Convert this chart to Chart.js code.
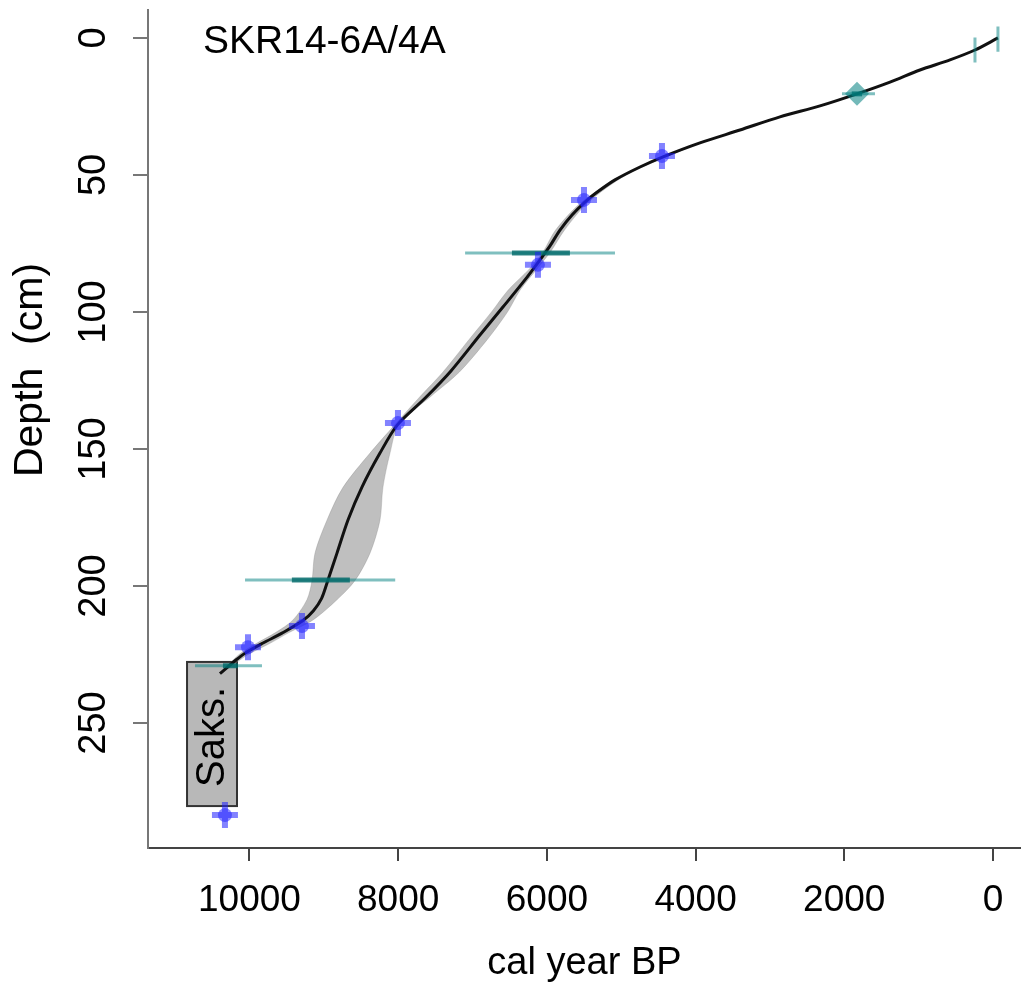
<!DOCTYPE html>
<html>
<head>
<meta charset="utf-8">
<script src="https://cdn.jsdelivr.net/npm/chart.js@4.4.0/dist/chart.umd.min.js"></script>
<style>
  html, body { margin: 0; padding: 0; background: #fff; }
</style>
</head>
<body>
<canvas id="ageModel" width="1021" height="986"></canvas>
<script>
// ---- DATA ----
const xTickValues = [0, 2000, 4000, 6000, 8000, 10000];
const yTickValues = [0, 50, 100, 150, 200, 250];

// age-depth model (weighted mean)
const curveYear  = [-67, 242, 578, 982, 1385, 1829, 2327, 2865, 3403, 3941, 4438, 4748, 5084, 5340, 5488, 5662, 5824, 5958, 6093, 6295, 6591, 6900, 7290, 7640, 8010, 8245, 8487, 8675, 8823, 8944, 9030, 9140, 9281, 9563, 9818, 10060, 10182, 10397];
const curveDepth = [0, 4.4, 8, 11.7, 16.1, 20.4, 24.8, 28.8, 33.6, 38.3, 43.4, 47.1, 51.8, 56.6, 59.9, 64.6, 70.1, 75.9, 81, 88.3, 98.2, 108.4, 121.5, 131.5, 141.2, 151.5, 163.9, 175.9, 188, 197.8, 204.5, 209, 212.6, 217.2, 220.8, 224.5, 227, 232];

// grey uncertainty envelope
const bandDepth = [40, 50, 60, 70, 78, 84, 92, 100, 110, 122, 131, 141, 151.5, 164, 176, 188, 198, 205, 212.4, 217, 221, 225, 229];
const bandOld   = [4120, 4970, 5535, 5880, 6050, 6225, 6520, 6745, 7045, 7400, 7710, 8040, 8379, 8742, 8958, 9119, 9159, 9227, 9415, 9650, 9910, 10140, 10280];
const bandYoung = [4100, 4930, 5445, 5760, 5950, 6125, 6360, 6530, 6800, 7180, 7570, 7990, 8110, 8205, 8245, 8379, 8581, 8823, 9146, 9470, 9730, 10020, 10240];

// 14C dates (blue)
const c14Year  = [4452, 5501, 6120, 8003, 9294, 10020, 10330];
const c14Depth = [43.1, 59.1, 82.8, 140.5, 214.6, 222.3, 283.6];

// other dates (teal): horizontal ranges
const tealDepth      = [20.4, 78.5, 197.8, 229.1];
const tealThinOld    = [2031, 7100, 10060, 10733];
const tealThinYoung  = [1587, 5084, 8040, 9832];
const tealCoreOld    = [1900, 6470, 9430, 10357];
const tealCoreYoung  = [1760, 5690, 8650, 10155];
const tealPeakYear   = [1829];
const tealPeakDepth  = [20.4];

// surface dates (teal, narrow)
const surfYear  = [-67, 242];
const surfDepth = [0.4, 4.4];

// Saksunarvatn tephra box
const saksOld = 10840, saksYoung = 10168, saksTop = 227.7, saksBottom = 280.3;
const saksLabel = 'Saks.';
const coreLabel = 'SKR14-6A/4A';
const depthLabel = 'Depth  (cm)';

const narrow = '"Liberation Sans Narrow", "Liberation Sans", Arial, sans-serif';
const regular = '"Liberation Sans", Arial, sans-serif';
const teal = 'rgba(0,128,128,0.5)';
const tealDark = 'rgba(0,105,105,0.8)';

// ---- DATASETS ----
const bandPoly = bandDepth.map((d, i) => ({ x: bandOld[i], y: d }))
  .concat(bandDepth.map((d, i) => ({ x: bandYoung[i], y: d })).reverse());

const datasets = [
  {
    data: bandPoly, showLine: true, fill: 'shape', tension: 0.3,
    backgroundColor: 'rgba(128,128,128,0.5)', borderColor: 'rgba(128,128,128,0.3)',
    borderWidth: 1, pointRadius: 0, order: 6,
  },
  {
    data: curveYear.map((v, i) => ({ x: v, y: curveDepth[i] })),
    showLine: true, tension: 0.3, borderColor: '#111', borderWidth: 3,
    pointRadius: 0, order: 5,
  },
];

tealDepth.forEach((d, i) => {
  datasets.push({
    data: [{ x: tealThinOld[i], y: d }, { x: tealThinYoung[i], y: d }],
    showLine: true, borderColor: teal, borderWidth: 3, pointRadius: 0, order: 4,
  });
  datasets.push({
    data: [{ x: tealCoreOld[i], y: d }, { x: tealCoreYoung[i], y: d }],
    showLine: true, borderColor: tealDark, borderWidth: 5, pointRadius: 0, order: 3,
  });
});

surfYear.forEach((v, i) => {
  datasets.push({
    data: [{ x: v, y: surfDepth[i] - 4.6 }, { x: v, y: surfDepth[i] + 4.6 }],
    showLine: true, borderColor: teal, borderWidth: 3, pointRadius: 0, order: 3,
  });
});

datasets.push({
  data: tealPeakYear.map((v, i) => ({ x: v, y: tealPeakDepth[i] })),
  pointStyle: 'rectRot', pointRadius: 12, backgroundColor: 'rgba(0,128,128,0.55)',
  borderWidth: 0, order: 2,
});

datasets.push({
  data: c14Year.map((v, i) => ({ x: v, y: c14Depth[i] })),
  pointStyle: 'cross', pointRadius: 13, borderColor: 'rgba(30,30,255,0.55)',
  borderWidth: 6, order: 1,
});
datasets.push({
  data: c14Year.map((v, i) => ({ x: v, y: c14Depth[i] })),
  pointStyle: 'circle', pointRadius: 7, backgroundColor: 'rgba(40,40,255,0.55)',
  borderWidth: 0, order: 0,
});

// ---- ANNOTATIONS ----
const annotate = {
  id: 'annotate',
  beforeDatasetsDraw(chart) {
    const { ctx, scales: { x, y } } = chart;
    const l = x.getPixelForValue(saksOld), r = x.getPixelForValue(saksYoung);
    const t = y.getPixelForValue(saksTop), b = y.getPixelForValue(saksBottom);
    ctx.save();
    ctx.fillStyle = '#b8b8b8';
    ctx.strokeStyle = '#333';
    ctx.lineWidth = 2;
    ctx.fillRect(l, t, r - l, b - t);
    ctx.strokeRect(l, t, r - l, b - t);
    ctx.translate((l + r) / 2 + 12, (t + b) / 2 + 3);
    ctx.rotate(-Math.PI / 2);
    ctx.font = '40px ' + regular;
    ctx.fillStyle = '#000';
    ctx.textAlign = 'center';
    ctx.textBaseline = 'alphabetic';
    ctx.fillText(saksLabel, 0, 0);
    ctx.restore();
  },
  afterDraw(chart) {
    const { ctx } = chart;
    ctx.save();
    ctx.fillStyle = '#000';
    ctx.font = '39px ' + regular;
    ctx.textBaseline = 'alphabetic';
    ctx.textAlign = 'left';
    ctx.fillText(coreLabel, 203, 53);
    ctx.font = '41px ' + regular;
    ctx.translate(42, 370);
    ctx.rotate(-Math.PI / 2);
    ctx.textAlign = 'center';
    ctx.fillText(depthLabel, 0, 0);
    ctx.restore();
  }
};

// ---- CHART ----
new Chart(document.getElementById('ageModel').getContext('2d'), {
  type: 'scatter',
  data: { datasets },
  plugins: [annotate],
  options: {
    responsive: false,
    animation: false,
    events: [],
    layout: { autoPadding: false, padding: { top: 10, right: 0, left: 0, bottom: 0 } },
    plugins: { legend: { display: false }, tooltip: { enabled: false } },
    scales: {
      x: {
        type: 'linear', reverse: true, min: -377, max: 11365,
        afterBuildTicks: s => { s.ticks = xTickValues.map(v => ({ value: v })); },
        afterFit: s => { s.height = 138; s.paddingLeft = 0; s.paddingRight = 0; },
        ticks: { font: { family: narrow, size: 37 }, color: '#000', padding: 18, maxRotation: 0, autoSkip: false, callback: v => String(v) },
        grid: { drawOnChartArea: false, tickLength: 13, color: '#444', lineWidth: 2 },
        border: { color: '#444', width: 2 },
        title: { display: true, text: 'cal year BP', font: { family: regular, size: 38 }, color: '#000', padding: { top: 0, bottom: 0 } },
      },
      y: {
        type: 'linear', reverse: true, min: -10.2, max: 295.6,
        afterBuildTicks: s => { s.ticks = yTickValues.map(v => ({ value: v })); },
        afterFit: s => { s.width = 148; s.paddingTop = 0; s.paddingBottom = 0; },
        ticks: { font: { family: narrow, size: 38 }, color: '#000', padding: 7, minRotation: 90, maxRotation: 90, crossAlign: 'center', autoSkip: false, callback: v => String(v) },
        grid: { drawOnChartArea: false, tickLength: 15, color: '#777', lineWidth: 2 },
        border: { color: '#777', width: 2 },
      }
    }
  }
});
</script>
</body>
</html>
